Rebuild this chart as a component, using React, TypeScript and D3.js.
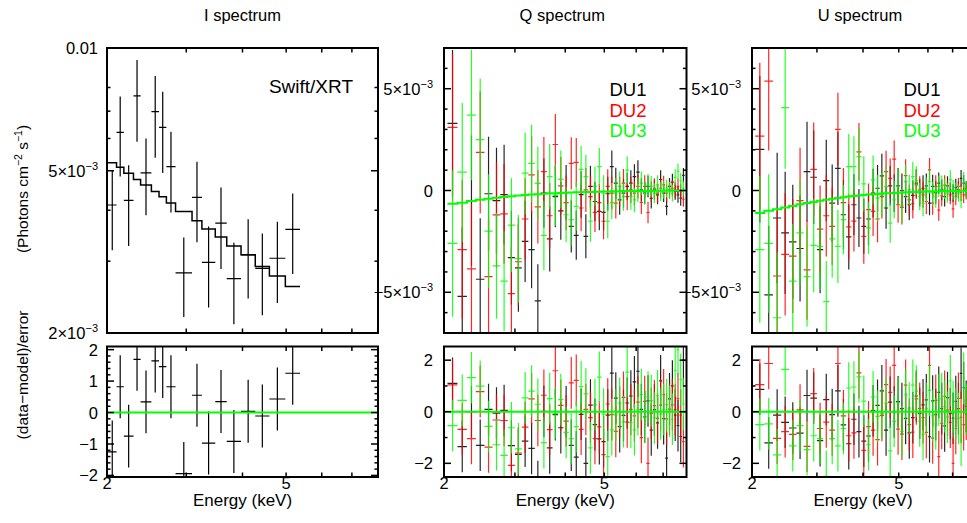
import React from 'react'
import * as d3 from 'd3'

// ---- Swift/XRT (Stokes I), flux in 1e-3 photons cm^-2 s^-1 ----
const xrtEdges = [2.01, 2.10, 2.18, 2.29, 2.375, 2.51, 2.61, 2.71, 2.84, 3.09, 3.25, 3.48, 3.69, 3.97, 4.27, 4.59, 4.98, 5.37]
const xrtFlux = [4.12, 6.21, 4.23, 7.63, 4.94, 6.98, 6.39, 5.12, 2.81, 4.30, 2.98, 3.72, 2.72, 3.11, 2.88, 3.05, 3.59]
const xrtFluxLo = [3.19, 4.84, 3.27, 5.89, 3.89, 5.38, 4.94, 3.95, 2.19, 3.34, 2.31, 2.87, 2.10, 2.43, 2.21, 2.37, 2.79]
const xrtFluxHi = [5.02, 7.60, 5.16, 9.34, 6.00, 8.54, 7.81, 6.23, 3.43, 5.26, 3.65, 4.55, 3.33, 3.80, 3.51, 3.75, 4.40]
const xrtModel = [5.23, 5.10, 4.93, 4.76, 4.61, 4.45, 4.32, 4.17, 3.97, 3.77, 3.60, 3.44, 3.27, 3.11, 2.91, 2.76, 2.60]
const xrtResid = [-1.25, 0.82, -0.75, 1.69, 0.34, 1.64, 1.46, 0.82, -1.94, 0.55, -0.97, 0.35, -0.92, 0.04, -0.11, 0.43, 1.25]

// ---- IXPE Q / U, values in 1e-3 ----
const ixpeEnergy = [2.10, 2.22, 2.34, 2.46, 2.58, 2.70, 2.82, 2.94, 3.06, 3.18, 3.30, 3.42, 3.54, 3.66, 3.78, 3.90, 4.02, 4.14, 4.26, 4.38, 4.50, 4.62, 4.74, 4.86, 4.98, 5.10, 5.22, 5.34, 5.46, 5.58, 5.70, 5.82, 5.94, 6.06, 6.18, 6.30, 6.42, 6.54, 6.66, 6.78, 6.90, 7.02, 7.14, 7.26, 7.38, 7.50, 7.62, 7.74, 7.86]
const ixpeHalfWidth = 0.06
const polErr = [3.6, 3.4, 3.2, 3.0, 2.8, 2.6, 2.45, 2.3, 2.15, 2.0, 1.9, 1.8, 1.7, 1.6, 1.5, 1.42, 1.35, 1.28, 1.2, 1.14, 1.08, 1.02, 0.97, 0.92, 0.88, 0.84, 0.8, 0.76, 0.73, 0.7, 0.67, 0.64, 0.61, 0.59, 0.57, 0.55, 0.53, 0.51, 0.49, 0.47, 0.46, 0.44, 0.43, 0.42, 0.41, 0.4, 0.39, 0.38, 0.37]

const qModel = [-0.65, -0.6, -0.52, -0.46, -0.4, -0.36, -0.32, -0.28, -0.25, -0.22, -0.2, -0.18, -0.16, -0.14, -0.13, -0.12, -0.11, -0.1, -0.09, -0.08, -0.07, -0.07, -0.06, -0.06, -0.05, -0.05, -0.04, -0.04, -0.04, -0.03, -0.03, -0.03, -0.03, -0.02, -0.02, -0.02, -0.02, -0.02, -0.01, -0.01, -0.01, -0.01, -0.01, -0.01, 0, 0, 0, 0, 0]
const qDU1 = [3.3, -5.2, -0.5, -4.36, -0.16, -0.5, -0.2, -3.3, -3.8, -2.5, -2.9, -5.42, -0.13, -2.38, -0.3, -1.0, -0.1, -1.76, -2.2, -0.2, -2.25, 0.2, -0.54, -1.03, -1.07, -0.16, 1.17, 0.36, -0.46, -0.13, 0.2, 0.36, 0.68, 0.9, 0.03, -0.13, 0.2, -0.38, 0.03, -0.21, 0.54, -0.13, -0.78, 0.2, 0.41, -0.05, -0.21, -0.37, 0.74]
const qDU2 = [3.1, -2.9, -3.85, 1.87, -4.23, -1.2, -1.15, -5.07, -3.5, -1.4, 0.77, -0.8, 0.93, -1.24, 2.26, 0.23, -0.6, 1.33, 1.38, -0.86, 0.03, -0.3, -1.07, -0.6, -1.51, 0.2, -0.13, -0.62, -0.05, 0.36, -0.3, 0.03, -0.13, 0.2, -0.59, 0.2, -1.08, -0.05, 0.11, -0.13, 0.11, 0.28, -0.13, 0.03, 0.11, 0.03, 0.2, -0.05, -0.43]
const qDU3 = [-2.6, 0.9, 3.7, 2.5, -2.0, -3.7, -4.45, -1.7, -3.35, 0.85, 1.33, 0.35, -2.2, 0.68, -0.24, 0.55, -1.19, -1.43, -0.78, 1.04, 0.68, -1.5, 0.2, 1.17, -0.13, -1.51, -0.6, -0.13, 0.2, -0.3, 1.0, -0.3, -0.46, 0.03, 0.36, -0.13, 0.28, 0.2, -0.13, 0.28, -0.05, 0.03, 0.11, 0, -0.13, 0.64, 0.94, 0.48, 0.11]
const qRes1 = [1.1, -1.35, 0, -1.3, 0.09, -0.05, 0.05, -1.31, -1.65, -1.14, -1.42, -2.9, 0.02, -1.4, -0.11, -0.62, 0, -1.3, -1.76, -0.1, -2.0, 0.26, -0.5, -1.05, -1.16, -0.13, 1.5, 0.53, -0.58, -0.14, 0.34, 0.61, 1.16, 1.57, 0.09, -0.2, 0.42, -0.71, 0.08, -0.43, 1.2, -0.27, -1.8, 0.5, 1.0, -0.13, -0.54, -0.96, 2.0]
const qRes2 = [1.04, -0.68, -1.04, 0.78, -1.37, -0.32, -0.34, -2.08, -1.6, -0.6, 0.5, -0.34, 0.64, -0.69, 1.59, 0.25, -0.36, 1.12, 1.22, -0.68, 0.09, -0.23, -1.04, -0.59, -1.66, 0.3, -0.11, -0.76, -0.01, 0.56, -0.4, 0.09, -0.16, 0.37, -1.0, 0.4, -2.0, -0.06, 0.24, -0.26, 0.26, 0.66, -0.28, 0.1, 0.27, 0.08, 0.51, -0.13, -1.16]
const qRes3 = [-0.54, 0.44, 1.32, 0.99, -0.57, -1.28, -1.69, -0.62, -1.44, 0.54, 0.8, 0.29, -1.2, 0.51, -0.07, 0.47, -0.8, -1.04, -0.58, 0.98, 0.69, -1.4, 0.27, 1.34, -0.09, -1.74, -0.7, -0.12, 0.33, -0.39, 1.54, -0.42, -0.7, 0.08, 0.67, -0.2, 0.57, 0.43, -0.24, 0.62, -0.09, 0.09, 0.28, 0.02, -0.29, 1.6, 2.4, 1.25, 0.3]

const uModel = [-1.1, -1.0, -0.92, -0.84, -0.76, -0.68, -0.62, -0.56, -0.5, -0.45, -0.41, -0.37, -0.33, -0.3, -0.27, -0.25, -0.22, -0.2, -0.18, -0.17, -0.15, -0.14, -0.13, -0.12, -0.11, -0.1, -0.09, -0.08, -0.07, -0.07, -0.06, -0.06, -0.05, -0.05, -0.04, -0.04, -0.04, -0.03, -0.03, -0.03, -0.02, -0.02, -0.02, -0.02, -0.01, -0.01, -0.01, -0.01, 0]
const uDU1 = [2.02, -5.13, -1.35, -2.08, -2.52, -2.85, 0.93, 0.65, -2.9, 0.49, -0.62, 1.09, -1.19, -2.28, -0.7, -1.35, -1.76, -1.4, -0.13, 0.11, 0.72, -0.86, 0.23, -0.13, 0.23, 0, -0.3, -0.7, -0.24, 0.36, -0.1, 0.11, 0.23, -0.62, 0.2, -0.1, 0.36, 0.03, -0.3, 0.23, -0.05, -0.13, 0.15, 0.03, 0.6, 0.36, 0.07, 0.1, -0.1]
const uDU2 = [2.67, 5.37, -4.2, -3.14, -3.22, -0.5, -3.9, 1.04, -1.9, -1.24, -1.76, 3.0, -0.6, -1.79, -1.5, 1.9, -2.25, -0.94, -1.03, -1.4, -0.3, 0.93, 0.6, 1.54, -0.7, -0.83, 0.73, -0.46, -0.65, 0.28, 0.03, -0.21, -0.54, 1.01, -0.62, 0.2, -0.96, -0.26, 0.26, 0, -0.21, -0.9, -0.3, 0.2, -0.1, -0.21, -0.05, 0.1, -0.1]
const uDU3 = [-2.9, -2.6, -6.25, 4.07, -4.45, -2.08, -4.23, -2.7, -2.74, -5.46, -2.38, -2.74, -1.43, 1.17, 1.17, 1.66, 0.33, -1.84, 0.52, -0.37, -0.21, 0.2, -1.6, -0.46, 0.2, -0.75, 0.44, 0.03, 0.68, 0.49, -0.3, -0.62, 0.03, 0.44, -0.13, -0.3, 0.2, 0.23, 0.07, -0.13, 0.53, 0.07, -0.05, -0.13, -0.46, 0.51, 0.03, 0.1, 0]
const uRes1 = [0.87, -1.21, -0.13, -0.41, -0.63, -0.83, 0.63, 0.53, -1.12, 0.47, -0.11, 0.81, -0.51, -1.24, -0.29, -0.77, -1.14, -0.94, 0.04, 0.25, 0.81, -0.71, 0.37, -0.01, 0.39, 0.12, -0.26, -0.82, -0.23, 0.61, -0.06, 0.27, 0.46, -0.97, 0.42, -0.11, 0.75, 0.12, -0.55, 0.55, -0.07, -0.25, 0.4, 0.12, 1.49, 0.93, 0.21, 0.29, -0.27]
const uRes2 = [1.05, 1.87, -1.03, -0.77, -0.88, 0.07, -1.34, 0.7, -0.65, -0.4, -0.71, 1.87, -0.16, -0.93, -0.82, 1.51, -1.5, -0.58, -0.71, -1.08, -0.14, 1.05, 0.75, 1.8, -0.67, -0.87, 1.03, -0.5, -0.79, 0.5, 0.13, -0.23, -0.8, 1.8, -1.02, 0.44, -1.74, -0.45, 0.6, 0.06, -0.41, -2.0, -0.65, 0.52, -0.22, -0.5, -0.1, 0.29, -0.27]
const uRes3 = [-0.5, -0.47, -1.67, 1.64, -1.32, -0.54, -1.47, -0.93, -1.04, -2.5, -1.04, -1.32, -0.65, 0.92, 0.96, 1.35, 0.41, -1.28, 0.58, -0.18, -0.06, 0.33, -1.52, -0.37, 0.35, -0.77, 0.66, 0.14, 1.03, 0.8, -0.36, -0.88, 0.13, 0.83, -0.16, -0.47, 0.45, 0.51, 0.2, -0.21, 1.2, 0.2, -0.07, -0.26, -1.1, 1.3, 0.1, 0.29, 0]

const duNames = ['DU1', 'DU2', 'DU3']
const duColors = ['#000000', '#ff0000', '#00ff00']
const modelColor = '#00ff00'

const energyTicks = [3, 4, 5, 6, 7]
const energyLabels = [2, 5]

const W = 967
const H = 523
const FONT = "'Liberation Sans', Arial, Helvetica, sans-serif"
const TOP = [333, 48]
const BOT = [477, 346.5]
const TICK_FS = 16.5

const minus = (s: string) => s.replace('-', '\u2212')

// label like 5×10^-3
function SciLabel ({ x, y, mant, exp }: { x: number, y: number, mant: string, exp: string }) {
  return (
    <text x={x} y={y} textAnchor='end' fontSize={TICK_FS}>
      <tspan>{mant}×10</tspan>
      <tspan dy={-7} fontSize={11}>{exp}</tspan>
    </text>
  )
}

function Frame ({ x0, x1, y0, y1 }: any) {
  return <rect x={x0} y={y1} width={x1 - x0} height={y0 - y1} fill='none' stroke='#000' strokeWidth={2} />
}

function xTickLines (xs: any, yb: number, yt: number) {
  return energyTicks.map(e => (
    <g key={'xt' + e}>
      <line x1={xs(e)} x2={xs(e)} y1={yb} y2={yb - 4.5} stroke='#000' strokeWidth={1.5} />
      <line x1={xs(e)} x2={xs(e)} y1={yt} y2={yt + 4.5} stroke='#000' strokeWidth={1.5} />
    </g>
  ))
}

function yTickLines (ys: any, ticks: { v: number, major: boolean }[], x0: number, x1: number) {
  return ticks.map((t, i) => {
    const len = t.major ? 7 : 3.5
    return (
      <g key={'yt' + i}>
        <line x1={x0} x2={x0 + len} y1={ys(t.v)} y2={ys(t.v)} stroke='#000' strokeWidth={1.5} />
        <line x1={x1} x2={x1 - len} y1={ys(t.v)} y2={ys(t.v)} stroke='#000' strokeWidth={1.5} />
      </g>
    )
  })
}

function XLabels ({ xs, x0, x1 }: any) {
  return (
    <g>
      {energyLabels.map(e => (
        <text key={e} x={xs(e)} y={489} textAnchor='middle' fontSize={TICK_FS}>{e}</text>
      ))}
      <text x={(x0 + x1) / 2} y={506} textAnchor='middle' fontSize={17}>Energy (keV)</text>
    </g>
  )
}

function XrtPanel () {
  const x0 = 107
  const x1 = 378
  const xs = d3.scaleLog().domain([2, 8]).range([x0, x1])
  const ys = d3.scaleLog().domain([2, 10]).range(TOP)
  const yr = d3.scaleLinear().domain([-2.05, 2.1]).range(BOT)

  const stepPts: [number, number][] = xrtModel.map((m, i) => [xs(xrtEdges[i]), ys(m)] as [number, number])
  stepPts.push([xs(xrtEdges[xrtEdges.length - 1]), ys(xrtModel[xrtModel.length - 1])])
  const step = d3.line().curve(d3.curveStepAfter)(stepPts) || ''

  let dataPath = ''
  let resPath = ''
  xrtFlux.forEach((f, i) => {
    const a = xs(xrtEdges[i])
    const b = xs(xrtEdges[i + 1])
    const c = (a + b) / 2
    dataPath += `M${c},${ys(xrtFluxLo[i])}V${ys(xrtFluxHi[i])}M${a},${ys(f)}H${b}`
    const r = xrtResid[i]
    resPath += `M${c},${yr(r - 1)}V${yr(r + 1)}M${a},${yr(r)}H${b}`
  })

  const logTicks = [2, 3, 4, 5, 6, 7, 8, 10].map(v => ({ v, major: v === 2 || v === 5 || v === 10 }))
  const resTicks = d3.range(-20, 21, 2).map(k => ({ v: k / 10, major: k % 10 === 0 }))

  return (
    <g>
      <text x={(x0 + x1) / 2} y={21} textAnchor='middle' fontSize={16.5}>I spectrum</text>
      <defs>
        <clipPath id='clipIt'><rect x={x0} y={TOP[1]} width={x1 - x0} height={TOP[0] - TOP[1]} /></clipPath>
        <clipPath id='clipIr'><rect x={x0} y={BOT[1]} width={x1 - x0} height={BOT[0] - BOT[1]} /></clipPath>
      </defs>
      <g clipPath='url(#clipIt)'>
        <path d={step} fill='none' stroke='#000' strokeWidth={1.5} />
        <path d={dataPath} fill='none' stroke='#000' strokeWidth={1.2} />
      </g>
      <g clipPath='url(#clipIr)'>
        <path d={resPath} fill='none' stroke='#000' strokeWidth={1.2} />
        <line x1={x0} x2={x1} y1={yr(0)} y2={yr(0)} stroke={modelColor} strokeWidth={2} />
      </g>
      {yTickLines(ys, logTicks, x0, x1)}
      {yTickLines(yr, resTicks, x0, x1)}
      {xTickLines(xs, TOP[0], TOP[1])}
      {xTickLines(xs, BOT[0], BOT[1])}
      <Frame x0={x0} x1={x1} y0={TOP[0]} y1={TOP[1]} />
      <Frame x0={x0} x1={x1} y0={BOT[0]} y1={BOT[1]} />

      <text x={x0 - 9} y={ys(10) + 6} textAnchor='end' fontSize={TICK_FS}>0.01</text>
      <SciLabel x={x0 - 9} y={ys(5) + 6} mant='5' exp={minus('-3')} />
      <SciLabel x={x0 - 9} y={ys(2) + 6} mant='2' exp={minus('-3')} />
      {[-2, -1, 0, 1, 2].map(v => (
        <text key={v} x={x0 - 9} y={yr(v) + 6} textAnchor='end' fontSize={TICK_FS}>{minus(String(v))}</text>
      ))}
      <XLabels xs={xs} x0={x0} x1={x1} />
      <text x={353} y={93} textAnchor='end' fontSize={19}>Swift/XRT</text>

      <text transform='translate(28,189) rotate(-90)' textAnchor='middle' fontSize={15.5}>
        <tspan>(Photons cm</tspan>
        <tspan dy={-6} fontSize={10.5}>{'\u22122'}</tspan>
        <tspan dy={6}> s</tspan>
        <tspan dy={-6} fontSize={10.5}>{'\u22121'}</tspan>
        <tspan dy={6}>)</tspan>
      </text>
      <text transform='translate(28,375) rotate(-90)' textAnchor='middle' fontSize={15.5}>(data{'\u2212'}model)/error</text>
    </g>
  )
}

function IxpePanel ({ id, title, x0, x1, model, du, res }: any) {
  const xs = d3.scaleLog().domain([2, 8]).range([x0, x1])
  const ys = d3.scaleLinear().domain([-7, 7]).range(TOP)
  const yr = d3.scaleLinear().domain([-2.53, 2.53]).range(BOT)

  const stepPts: [number, number][] = model.map((m: number, i: number) => [xs(ixpeEnergy[i] - ixpeHalfWidth), ys(m)] as [number, number])
  const last = ixpeEnergy.length - 1
  stepPts.push([xs(ixpeEnergy[last] + ixpeHalfWidth), ys(model[last])])
  const step = d3.line().curve(d3.curveStepAfter)(stepPts) || ''

  const dataPaths = du.map((vals: number[]) => {
    let p = ''
    vals.forEach((v, k) => {
      const e = ixpeEnergy[k]
      const c = xs(e)
      p += `M${c},${ys(v - polErr[k])}V${ys(v + polErr[k])}M${xs(e - ixpeHalfWidth)},${ys(v)}H${xs(e + ixpeHalfWidth)}`
    })
    return p
  })
  const resPaths = res.map((vals: number[]) => {
    let p = ''
    vals.forEach((r, k) => {
      const e = ixpeEnergy[k]
      const c = xs(e)
      p += `M${c},${yr(r - 1)}V${yr(r + 1)}M${xs(e - ixpeHalfWidth)},${yr(r)}H${xs(e + ixpeHalfWidth)}`
    })
    return p
  })

  const linTicks = d3.range(-7, 8).map(v => ({ v, major: v % 5 === 0 }))
  const resTicks = [-2, -1, 0, 1, 2].map(v => ({ v, major: v % 2 === 0 }))
  const legendX = xs(5.15)

  return (
    <g>
      <text x={(x0 + x1) / 2 - 3} y={21} textAnchor='middle' fontSize={16.5}>{title}</text>
      <defs>
        <clipPath id={'clip' + id + 't'}><rect x={x0} y={TOP[1]} width={x1 - x0} height={TOP[0] - TOP[1]} /></clipPath>
        <clipPath id={'clip' + id + 'r'}><rect x={x0} y={BOT[1]} width={x1 - x0} height={BOT[0] - BOT[1]} /></clipPath>
      </defs>
      <g clipPath={`url(#clip${id}t)`}>
        {dataPaths.map((p: string, i: number) => (
          <path key={i} d={p} fill='none' stroke={duColors[i]} strokeWidth={1.2} strokeOpacity={0.85} />
        ))}
        <path d={step} fill='none' stroke={modelColor} strokeWidth={2} />
      </g>
      <g clipPath={`url(#clip${id}r)`}>
        {resPaths.map((p: string, i: number) => (
          <path key={i} d={p} fill='none' stroke={duColors[i]} strokeWidth={1.2} strokeOpacity={0.85} />
        ))}
        <line x1={x0} x2={x1} y1={yr(0)} y2={yr(0)} stroke={modelColor} strokeWidth={2} />
      </g>
      {yTickLines(ys, linTicks, x0, x1)}
      {yTickLines(yr, resTicks, x0, x1)}
      {xTickLines(xs, TOP[0], TOP[1])}
      {xTickLines(xs, BOT[0], BOT[1])}
      <Frame x0={x0} x1={x1} y0={TOP[0]} y1={TOP[1]} />
      <Frame x0={x0} x1={x1} y0={BOT[0]} y1={BOT[1]} />

      <SciLabel x={x0 - 11} y={ys(5) + 6} mant='5' exp={minus('-3')} />
      <text x={x0 - 11} y={ys(0) + 6} textAnchor='end' fontSize={TICK_FS}>0</text>
      <SciLabel x={x0 - 11} y={ys(-5) + 6} mant={minus('-5')} exp={minus('-3')} />
      {[-2, 0, 2].map(v => (
        <text key={v} x={x0 - 11} y={yr(v) + 6} textAnchor='end' fontSize={TICK_FS}>{minus(String(v))}</text>
      ))}
      <XLabels xs={xs} x0={x0} x1={x1} />

      {duNames.map((n, i) => (
        <text key={n} x={legendX} y={96 + i * 20.5} fontSize={18.5} fill={duColors[i]}>{n}</text>
      ))}
    </g>
  )
}

export default function App () {
  return (
    <svg width={W} height={H} style={{ position: 'absolute', left: 0, top: 0, background: '#fff', fontFamily: FONT }}>
      <rect width={W} height={H} fill='#fff' />
      <XrtPanel />
      <IxpePanel id='Q' title='Q spectrum' x0={444} x1={686.5} model={qModel} du={[qDU1, qDU2, qDU3]} res={[qRes1, qRes2, qRes3]} />
      <IxpePanel id='U' title='U spectrum' x0={752} x1={974} model={uModel} du={[uDU1, uDU2, uDU3]} res={[uRes1, uRes2, uRes3]} />
    </svg>
  )
}
